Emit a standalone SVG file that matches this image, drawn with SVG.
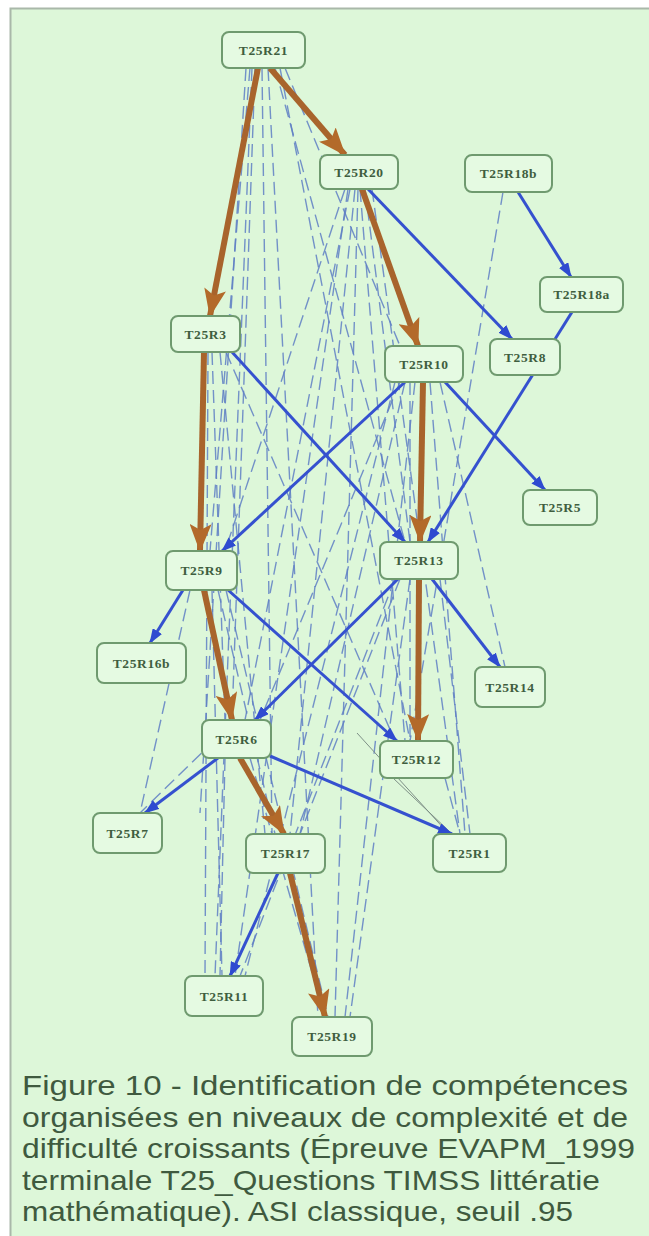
<svg xmlns="http://www.w3.org/2000/svg" width="649" height="1236" viewBox="0 0 649 1236">
<defs>
<style>
.bg{fill:#ddf7d9}
.node rect{fill:#e5fae2;stroke:#6f9a6f;stroke-width:2}
.node text{font-family:"Liberation Serif",serif;font-weight:bold;font-size:13.5px;fill:#3f5e3f;text-anchor:middle;letter-spacing:0.6px}
.brown{stroke:#a8642c;stroke-width:6;fill:none;marker-end:url(#ab)}
.blue{stroke:#3551cf;stroke-width:3;fill:none;marker-end:url(#abl)}
.dash{stroke:#5f7fc4;stroke-width:1.4;fill:none;stroke-dasharray:13 6;opacity:0.85}
.thin{stroke:#7d8f86;stroke-width:1;fill:none}
.cap{font-family:"Liberation Sans",Arial,sans-serif;font-size:28px;fill:#3f5a3f}
</style>
<marker id="ab" markerUnits="userSpaceOnUse" markerWidth="28" markerHeight="22" refX="27" refY="11" orient="auto"><path d="M0,0 L28,11 L0,22 L6,11 Z" fill="#b36a2a"/></marker>
<marker id="abl" markerUnits="userSpaceOnUse" markerWidth="15" markerHeight="11" refX="14" refY="5.5" orient="auto"><path d="M0,0 L15,5.5 L0,11 Z" fill="#2f4bd0"/></marker>
</defs>
<rect x="0" y="0" width="649" height="1236" fill="#ffffff"/>
<rect class="bg" x="10" y="8" width="639" height="1228"/>
<path d="M10.5,1236 L10.5,8.5 L649,8.5" fill="none" stroke="#a9b8a9" stroke-width="2"/>
<g id="connectors">
<g id="dashed">
<path class="dash" d="M250,68 L210,551"/>
<path class="dash" d="M255,68 L232,720"/>
<path class="dash" d="M262,68 L272,834"/>
<path class="dash" d="M252,68 L215,976"/>
<path class="dash" d="M268,68 L318,1017"/>
<path class="dash" d="M275,68 L405,542"/>
<path class="dash" d="M280,68 L410,741"/>
<path class="dash" d="M285,68 L400,346"/>
<path class="dash" d="M246,68 L200,813"/>
<path class="dash" d="M365,189 L410,542"/>
<path class="dash" d="M360,189 L405,741"/>
<path class="dash" d="M350,189 L245,720"/>
<path class="dash" d="M345,189 L225,551"/>
<path class="dash" d="M355,189 L290,834"/>
<path class="dash" d="M348,189 L235,976"/>
<path class="dash" d="M358,189 L335,1017"/>
<path class="dash" d="M372,189 L460,834"/>
<path class="dash" d="M503,192 L410,741"/>
<path class="dash" d="M400,382 L260,720"/>
<path class="dash" d="M410,382 L410,741"/>
<path class="dash" d="M430,382 L465,834"/>
<path class="dash" d="M405,382 L300,834"/>
<path class="dash" d="M395,382 L245,976"/>
<path class="dash" d="M415,382 L345,1017"/>
<path class="dash" d="M440,382 L505,667"/>
<path class="dash" d="M212,352 L225,720"/>
<path class="dash" d="M220,352 L265,834"/>
<path class="dash" d="M208,352 L205,976"/>
<path class="dash" d="M226,352 L395,741"/>
<path class="dash" d="M218,590 L275,834"/>
<path class="dash" d="M212,590 L222,976"/>
<path class="dash" d="M226,590 L328,1017"/>
<path class="dash" d="M190,590 L140,813"/>
<path class="dash" d="M400,579 L300,834"/>
<path class="dash" d="M395,579 L240,976"/>
<path class="dash" d="M410,579 L350,1017"/>
<path class="dash" d="M440,579 L470,834"/>
<path class="dash" d="M225,758 L220,976"/>
<path class="dash" d="M250,758 L325,1017"/>
<path class="dash" d="M215,740 L140,813"/>
<path class="dash" d="M445,778 L460,834"/>
</g>
<g id="thin">
<path class="thin" d="M357,733 L447,832"/>
<path class="thin" d="M393,778 L450,832"/>
</g>
<g id="solid">
<path class="blue" d="M368,189 L512,339"/>
<path class="blue" d="M518,192 L571,277"/>
<path class="blue" d="M572,312 L428,542"/>
<path class="blue" d="M232,352 L405,542"/>
<path class="blue" d="M405,382 L222,551"/>
<path class="blue" d="M445,382 L545,490"/>
<path class="blue" d="M183,590 L150,643"/>
<path class="blue" d="M228,590 L397,741"/>
<path class="blue" d="M398,579 L255,720"/>
<path class="blue" d="M432,579 L500,667"/>
<path class="blue" d="M218,758 L145,813"/>
<path class="blue" d="M270,756 L452,834"/>
<path class="blue" d="M278,873 L230,976"/>
</g>
<g id="brown">
<path class="brown" d="M270,68 L345,155"/>
<path class="brown" d="M258,68 L210,316"/>
<path class="brown" d="M362,189 L418,346"/>
<path class="brown" d="M204,352 L200,551"/>
<path class="brown" d="M423,382 L420,542"/>
<path class="brown" d="M204,590 L232,720"/>
<path class="brown" d="M419,579 L418,741"/>
<path class="brown" d="M240,758 L284,834"/>
<path class="brown" d="M290,873 L325,1017"/>
</g>
</g>
<g id="R21" class="node"><rect x="222" y="32" width="83" height="36" rx="7"/><text x="263.5" y="55">T25R21</text></g>
<g id="R20" class="node"><rect x="320" y="155" width="78" height="34" rx="7"/><text x="359" y="177">T25R20</text></g>
<g id="R18b" class="node"><rect x="465" y="155" width="87" height="37" rx="7"/><text x="508.5" y="178">T25R18b</text></g>
<g id="R18a" class="node"><rect x="540" y="277" width="83" height="35" rx="7"/><text x="581.5" y="299">T25R18a</text></g>
<g id="R3" class="node"><rect x="171" y="316" width="69" height="36" rx="7"/><text x="205.5" y="339">T25R3</text></g>
<g id="R10" class="node"><rect x="385" y="346" width="78" height="36" rx="7"/><text x="424" y="369">T25R10</text></g>
<g id="R8" class="node"><rect x="490" y="339" width="70" height="36" rx="7"/><text x="525" y="362">T25R8</text></g>
<g id="R5" class="node"><rect x="523" y="490" width="74" height="35" rx="7"/><text x="560" y="512">T25R5</text></g>
<g id="R9" class="node"><rect x="166" y="551" width="71" height="39" rx="7"/><text x="201.5" y="575">T25R9</text></g>
<g id="R13" class="node"><rect x="380" y="542" width="78" height="37" rx="7"/><text x="419" y="565">T25R13</text></g>
<g id="R16b" class="node"><rect x="97" y="643" width="89" height="40" rx="7"/><text x="141.5" y="668">T25R16b</text></g>
<g id="R14" class="node"><rect x="475" y="667" width="70" height="40" rx="7"/><text x="510" y="692">T25R14</text></g>
<g id="R6" class="node"><rect x="202" y="720" width="69" height="38" rx="7"/><text x="236.5" y="744">T25R6</text></g>
<g id="R12" class="node"><rect x="380" y="741" width="73" height="37" rx="7"/><text x="416.5" y="764">T25R12</text></g>
<g id="R7" class="node"><rect x="93" y="813" width="69" height="40" rx="7"/><text x="127.5" y="838">T25R7</text></g>
<g id="R17" class="node"><rect x="246" y="834" width="79" height="39" rx="7"/><text x="285.5" y="858">T25R17</text></g>
<g id="R1" class="node"><rect x="433" y="834" width="73" height="38" rx="7"/><text x="469.5" y="858">T25R1</text></g>
<g id="R11" class="node"><rect x="185" y="976" width="78" height="40" rx="7"/><text x="224" y="1001">T25R11</text></g>
<g id="R19" class="node"><rect x="292" y="1017" width="80" height="39" rx="7"/><text x="332" y="1041">T25R19</text></g>
<g id="caption">
<text class="cap" x="22" y="1095" textLength="606" lengthAdjust="spacingAndGlyphs">Figure 10 - Identification de compétences</text>
<text class="cap" x="22" y="1127" textLength="606" lengthAdjust="spacingAndGlyphs">organisées en niveaux de complexité et de</text>
<text class="cap" x="22" y="1158" textLength="613" lengthAdjust="spacingAndGlyphs">difficulté croissants (Épreuve EVAPM_1999</text>
<text class="cap" x="22" y="1190" textLength="578" lengthAdjust="spacingAndGlyphs">terminale T25_Questions TIMSS littératie</text>
<text class="cap" x="22" y="1221" textLength="551" lengthAdjust="spacingAndGlyphs">mathématique). ASI classique, seuil .95</text>
</g>
</svg>
